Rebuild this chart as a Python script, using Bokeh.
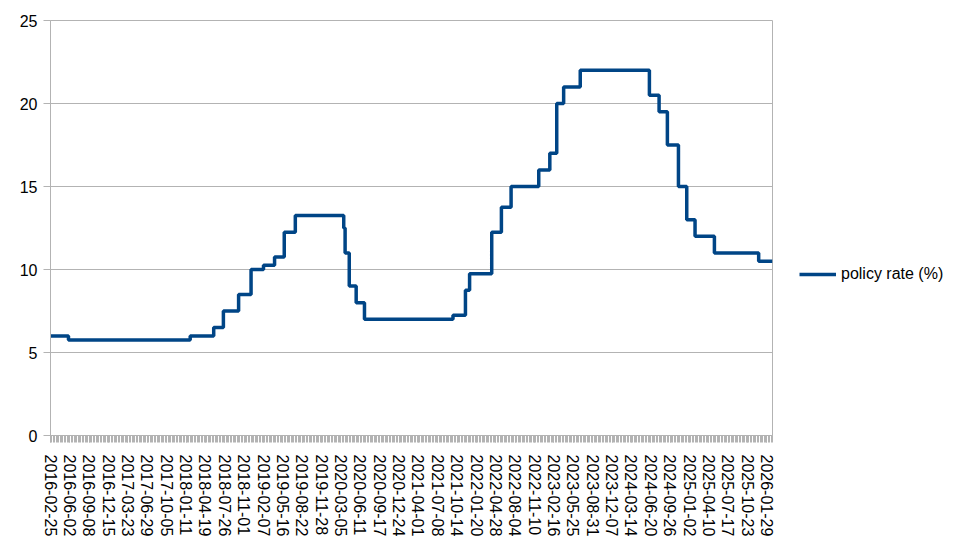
import math
import pandas as pd
from bokeh.plotting import figure
from bokeh.models import Range1d, FixedTicker, Legend, LegendItem
from bokeh.embed import file_html
from bokeh.resources import INLINE

# Weekly category labels (Thursdays)
start_date = "2016-02-25"
n_weeks = 523
dates = [d.strftime("%Y-%m-%d") for d in pd.date_range(start=start_date, periods=n_weeks, freq="7D")]

# Policy rate change points (first week where new rate appears) and rates (%)
change_dates = [
    "2016-02-25", "2016-05-26", "2018-02-01", "2018-05-31", "2018-07-19", "2018-10-04",
    "2018-12-06", "2019-02-07", "2019-04-04", "2019-05-23", "2019-07-18", "2020-03-19",
    "2020-03-26", "2020-04-16", "2020-05-21", "2020-07-02", "2021-09-23", "2021-11-25",
    "2021-12-16", "2022-04-07", "2022-05-26", "2022-07-14", "2022-12-01", "2023-01-26",
    "2023-03-02", "2023-04-06", "2023-06-29", "2024-06-13", "2024-08-01", "2024-09-12",
    "2024-11-07", "2024-12-19", "2025-01-30", "2025-05-08", "2025-12-18", "2026-02-26",
]
rates = [
    6.0, 5.75, 6.0, 6.5, 7.5, 8.5,
    10.0, 10.25, 10.75, 12.25, 13.25, 12.5,
    11.0, 9.0, 8.0, 7.0, 7.25, 8.75,
    9.75, 12.25, 13.75, 15.0, 16.0, 17.0,
    20.0, 21.0, 22.0, 20.5, 19.5, 17.5,
    15.0, 13.0, 12.0, 11.0, 10.5, 10.5,
]
y_ticks = [0, 5, 10, 15, 20, 25]
label_every = 14
series_name = "policy rate (%)"

x_idx = [dates.index(d) for d in change_dates]

GREY = "#b3b3b3"
FONT = "Liberation Sans"

p = figure(
    frame_width=722, frame_height=415,
    output_backend="svg", toolbar_location=None,
    x_range=Range1d(0, n_weeks - 1), y_range=Range1d(0, 25),
    min_border_left=50, min_border_top=20, min_border_bottom=100, min_border_right=0,
    outline_line_color=GREY, outline_line_width=1,
)
p.background_fill_color = "white"
p.border_fill_color = "white"

r = p.step(x=x_idx, y=rates, mode="after", line_color="#004586", line_width=3.5)

major = list(range(0, n_weeks, label_every))
p.xaxis.ticker = FixedTicker(ticks=major, minor_ticks=list(range(0, n_weeks)))
p.xaxis.major_label_overrides = {i: dates[i] for i in major}
p.xaxis.major_label_orientation = -math.pi / 2
p.yaxis.ticker = FixedTicker(ticks=y_ticks)

for ax in (p.xaxis, p.yaxis):
    ax.axis_line_color = GREY
    ax.major_tick_line_color = GREY
    ax.minor_tick_line_color = GREY
    ax.major_tick_in = 0
    ax.minor_tick_in = 0
    ax.major_label_text_font = FONT
    ax.major_label_text_font_size = "16px"
    ax.major_label_text_color = "black"

p.xaxis.major_tick_out = 7
p.xaxis.minor_tick_out = 7
p.xaxis.major_label_standoff = 12
p.yaxis.major_tick_out = 7
p.yaxis.minor_tick_line_color = None
p.yaxis.major_label_standoff = 6

p.xgrid.grid_line_color = None
p.ygrid.grid_line_color = GREY
p.ygrid.grid_line_width = 1

legend = Legend(
    items=[LegendItem(label=series_name, renderers=[r])],
    location=(27, 152),
    border_line_color=None, background_fill_alpha=0,
    glyph_width=37, glyph_height=16, label_standoff=5,
    label_text_font=FONT, label_text_font_size="16px", label_text_color="black",
    padding=0, margin=0, spacing=0,
)
p.add_layout(legend, "right")

open("out.html", "w").write(file_html(p, INLINE))
